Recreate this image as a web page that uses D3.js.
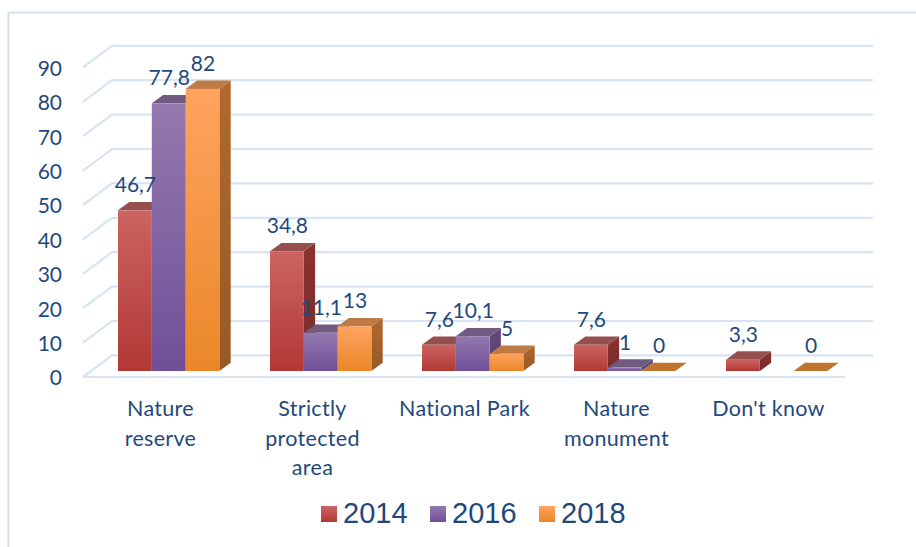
<!DOCTYPE html>
<html><head><meta charset="utf-8">
<script src="https://cdn.jsdelivr.net/npm/d3@7"></script>
<style>html,body{margin:0;padding:0;background:#fff}svg{display:block}</style>
</head><body><div id="c"></div>
<script>
const categories = [["Nature","reserve"],["Strictly","protected","area"],["National Park"],["Nature","monument"],["Don't know"]];
const years = ["2014","2016","2018"];
const v2014 = [46.7,34.8,7.6,7.6,3.3];
const v2016 = [77.8,11.1,10.1,1,null];
const v2018 = [82,13,5,0,0];
const yTicks = [0,10,20,30,40,50,60,70,80,90];
const fmt = v => String(v).replace(".",",");

const W=916,H=547;
const svg=d3.select("#c").append("svg").attr("width",W).attr("height",H);
const defs=svg.append("defs");
const styles=[
 {top:"#cb6461",bot:"#b23835",side:"#7f2e2c",cap:"#95504e"},
 {top:"#9379ae",bot:"#714f98",side:"#5b4473",cap:"#715a80"},
 {top:"#ffa35f",bot:"#ea8729",side:"#a1602a",cap:"#bf7b45"}];
styles.forEach((s,i)=>{
  const g=defs.append("linearGradient").attr("id","g"+i).attr("x1",0).attr("y1",0).attr("x2",0).attr("y2",1);
  g.append("stop").attr("offset",0).attr("stop-color",s.top);
  g.append("stop").attr("offset",1).attr("stop-color",s.bot);
  const h=defs.append("linearGradient").attr("id","h"+i).attr("x1",0).attr("y1",0).attr("x2",0).attr("y2",1);
  h.append("stop").attr("offset",0).attr("stop-color",d3.color(s.side).brighter(0.25));
  h.append("stop").attr("offset",1).attr("stop-color",d3.color(s.side).darker(0.2));
});
// frame
svg.append("path").attr("d","M8.5,547V12.5H916").attr("fill","none").attr("stroke","#d5e1f0").attr("stroke-width",2);

const font="Lato, Carlito, sans-serif", ink="#1f497d", gridC="#d8e3f3";
const y=d3.scaleLinear().domain([0,90]).range([371,61.4]);   // bar front plane
const x0=d3.scaleBand().domain(d3.range(5)).range([118,878]).paddingInner(0).paddingOuter(0);
const barW=33.8, dx=11.3, dy=8.3;
const gridFront=6, gx0=83, gx1=112, gxEnd=873, gdy=21.6;

// grid
const grid=svg.append("g").attr("fill","none").attr("stroke",gridC).attr("stroke-width",2.2);
yTicks.forEach(t=>{
  const yf=y(t)+gridFront, yb=yf-gdy;
  grid.append("path").attr("d",`M${gx0},${yf}L${gx1},${yb}H${gxEnd}`);
});
grid.append("path").attr("d",`M${gx0},${y(0)+gridFront}H845`);

// y axis labels
const axis=d3.axisLeft(d3.scaleLinear().domain([0,90]).range([y(0)+gridFront,y(90)+gridFront])).tickValues(yTicks).tickSize(0).tickPadding(0);
const ag=svg.append("g").attr("transform","translate(62,0.8)").call(axis);
ag.select(".domain").remove();
ag.selectAll("text").attr("font-family",font).attr("font-size",21).attr("fill",ink).attr("dy","0.34em").attr("text-anchor","end").attr("x",0);

// bars
const series=[v2014,v2016,v2018];
const bars=svg.append("g");
categories.forEach((c,ci)=>{
  series.forEach((vals,si)=>{
    const v=vals[ci]; if(v===null) return;
    const l=x0(ci)+si*barW, r=l+barW, t=y(v), b=y(0);
    const s=styles[si], g=bars.append("g");
    if(v>0){
      g.append("path").attr("d",`M${r},${t}L${r+dx},${t-dy}V${b-dy}L${r},${b}Z`).attr("fill",`url(#h${si})`);
      g.append("path").attr("d",`M${l},${t}L${l+dx},${t-dy}H${r+dx}L${r},${t}Z`).attr("fill",s.cap);
      g.append("rect").attr("x",l).attr("y",t).attr("width",barW).attr("height",b-t).attr("fill",`url(#g${si})`);
    } else {
      g.append("path").attr("d",`M${l},${t}L${l+dx},${t-dy}H${r+dx}L${r},${t}Z`).attr("fill","#c0752e");
    }
  });
});
// data labels
const lab=svg.append("g").attr("font-family",font).attr("font-size",21).attr("fill",ink).attr("text-anchor","middle");
categories.forEach((c,ci)=>{
  series.forEach((vals,si)=>{
    const v=vals[ci]; if(v===null) return;
    lab.append("text").attr("x",x0(ci)+si*barW+barW/2+0.5).attr("y",y(v)-18).text(fmt(v));
  });
});
// category labels
const cat=svg.append("g").attr("font-family",font).attr("font-size",21.5).attr("fill",ink).attr("text-anchor","middle");
categories.forEach((lines,ci)=>{
  lines.forEach((t,li)=>{
    cat.append("text").attr("x",x0(ci)+42.5).attr("y",416+li*29.7).attr("letter-spacing","0.3").text(t);
  });
});
// legend
const lx=d3.scalePoint().domain(years).range([321,539]);
const leg=svg.append("g");
years.forEach((yr,i)=>{
  leg.append("rect").attr("x",lx(yr)).attr("y",506).attr("width",16).attr("height",16).attr("fill",`url(#g${i})`);
  leg.append("text").attr("x",lx(yr)+22).attr("y",523).attr("font-family","'Liberation Sans',Arial,sans-serif").attr("font-size",29).attr("fill",ink).text(yr);
});
</script></body></html>
